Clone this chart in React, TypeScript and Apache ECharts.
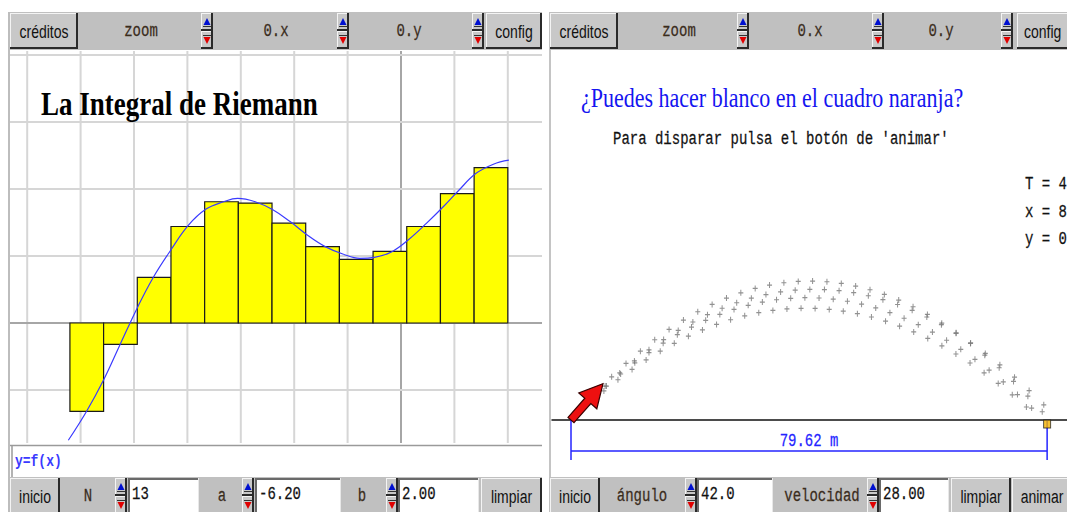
import React, { useEffect, useRef } from "react";
import * as echarts from "echarts";

// ---------------- Left applet: La Integral de Riemann ----------------
const riemannA = -6.2;
const riemannB = 2.0;
const riemannN = 13;
// midpoint Riemann-sum heights
const riemannBarHeights = [-1.32, -0.32, 0.68, 1.44, 1.81, 1.79, 1.49, 1.14, 0.95, 1.07, 1.44, 1.93, 2.32];
// y = f(x)
const curveX = [-6.23, -5.89, -5.57, -5.26, -4.93, -4.64, -4.31, -3.98, -3.65, -3.32, -3.06, -2.73, -2.4, -2.07, -1.75, -1.42, -1.09, -0.77, -0.5, -0.18, 0.15, 0.48, 0.81, 1.07, 1.4, 1.73, 2.02];
const curveY = [-1.75, -1.32, -0.85, -0.32, 0.24, 0.68, 1.09, 1.46, 1.7, 1.81, 1.86, 1.81, 1.69, 1.51, 1.31, 1.14, 1.03, 0.965, 0.98, 1.06, 1.25, 1.49, 1.75, 1.97, 2.23, 2.37, 2.43];
const leftGridX = [-7, -6, -5, -4, -3, -2, -1, 0, 1, 2];
const leftGridY = [-1, 0, 1, 2, 3, 4];
const leftInputs = ["13", "-6.20", "2.00"];

// ---------------- Right applet: tiro parabólico ----------------
const angleText = "42.0";
const speedText = "28.00";
const rangeMeters = 79.62;
const arrowVector = [5.35, 4.82];
const readouts = ["T = 4", "x = 8", "y = 0"];
const traceA = [[2.0, 1.79], [4.4, 3.83], [6.8, 5.72], [9.2, 7.49], [11.6, 9.12], [14.0, 10.63], [16.4, 12.0], [18.8, 13.23], [21.2, 14.34], [23.6, 15.31], [26.0, 16.15], [28.4, 16.85], [30.8, 17.43], [33.2, 17.87], [35.6, 18.18], [38.0, 18.35], [40.4, 18.4], [42.8, 18.31], [45.2, 18.09], [47.6, 17.74], [50.0, 17.25], [52.4, 16.63], [54.8, 15.88], [57.2, 15.0], [59.6, 13.98], [62.0, 12.83], [64.4, 11.55], [66.8, 10.14], [69.2, 8.59], [71.6, 6.92], [74.0, 5.11], [76.4, 3.16], [78.8, 1.09]];
const traceB = [[3.26, 2.66], [5.71, 4.5], [8.15, 6.23], [10.6, 7.83], [13.04, 9.3], [15.49, 10.65], [17.93, 11.87], [20.38, 12.98], [22.82, 13.95], [25.27, 14.8], [27.71, 15.53], [30.16, 16.13], [32.6, 16.61], [35.05, 16.96], [37.49, 17.19], [39.94, 17.29], [42.38, 17.27], [44.83, 17.13], [47.27, 16.86], [49.72, 16.46], [52.16, 15.94], [54.61, 15.3], [57.05, 14.53], [59.5, 13.64], [61.94, 12.62], [64.39, 11.48], [66.83, 10.21], [69.28, 8.82], [71.72, 7.31], [74.17, 5.67], [76.61, 3.9], [79.06, 2.01]];
const traceC = [[3.56, 2.78], [5.93, 4.5], [8.3, 6.09], [10.67, 7.57], [13.04, 8.93], [15.41, 10.17], [17.78, 11.3], [20.15, 12.31], [22.52, 13.2], [24.89, 13.98], [27.26, 14.64], [29.63, 15.19], [32.0, 15.62], [34.37, 15.93], [36.74, 16.12], [39.11, 16.2], [41.48, 16.16], [43.85, 16.0], [46.22, 15.73], [48.59, 15.34], [50.96, 14.84], [53.33, 14.22], [55.7, 13.48], [58.07, 12.62], [60.44, 11.65], [62.81, 10.56], [65.18, 9.36], [67.55, 8.03], [69.92, 6.6], [72.29, 5.04], [74.66, 3.37], [77.03, 1.58]];
const traceD = [[3.14, 2.27], [5.5, 3.85], [7.85, 5.33], [10.21, 6.7], [12.56, 7.96], [14.92, 9.11], [17.27, 10.16], [19.63, 11.1], [21.98, 11.93], [24.34, 12.66], [26.69, 13.28], [29.05, 13.8], [31.4, 14.21], [33.76, 14.51], [36.11, 14.71], [38.47, 14.79], [40.82, 14.78], [43.18, 14.65], [45.53, 14.42], [47.89, 14.08], [50.24, 13.64], [52.6, 13.09], [54.95, 12.43], [57.31, 11.67], [59.66, 10.8], [62.02, 9.82], [64.37, 8.74], [66.73, 7.55], [69.08, 6.25], [71.44, 4.85], [73.79, 3.34], [76.15, 1.72]];

// ---------------- layout (pixels) ----------------
const S = 1.26; // vertical stretch of the screenshot
const L = { left: 10, top: 51, right: 542, bottom: 443, ox: 401, oy: 323, ux: 53.4, uy: 67 };
const R = { left: 552, top: 51, right: 1067, bottom: 478, ox: 571, oy: 420, ux: 5.98, uy: 7.55 };

const BTN = '14px "Liberation Sans", Arial, sans-serif';
const MONO = '14px "Liberation Mono", "Courier New", monospace';
const LABEL_C = "#3a2c1c";

function txt(x: number, y: number, text: string, font: string, fill: string, align = "center", z = 20) {
  const heavy = font === MONO;
  return {
    type: "text", x, y, scaleY: S, z,
    style: { text, font, fill, textAlign: align, textVerticalAlign: "middle", stroke: heavy ? fill : undefined, lineWidth: heavy ? 0.2 : 0 },
  };
}
function raised(x: number, y: number, w: number, h: number) {
  return [
    { type: "rect", z: 10, shape: { x, y, width: w, height: h }, style: { fill: "#c8c8c8" } },
    { type: "line", z: 11, shape: { x1: x + 0.5, y1: y, x2: x + 0.5, y2: y + h }, style: { stroke: "#f4f4f4", lineWidth: 1 } },
    { type: "line", z: 11, shape: { x1: x, y1: y + 0.5, x2: x + w, y2: y + 0.5 }, style: { stroke: "#f4f4f4", lineWidth: 1 } },
    { type: "line", z: 11, shape: { x1: x + w - 1, y1: y, x2: x + w - 1, y2: y + h }, style: { stroke: "#2a2a2a", lineWidth: 2 } },
    { type: "line", z: 11, shape: { x1: x, y1: y + h - 1, x2: x + w, y2: y + h - 1 }, style: { stroke: "#2a2a2a", lineWidth: 2 } },
  ];
}
function button(x: number, y: number, w: number, h: number, label: string, align = "center") {
  const tx = align === "center" ? x + w / 2 : x + 7;
  return [...raised(x, y, w, h), txt(tx, y + h / 2 + 1, label, BTN, "#111", align)];
}
function spinner(x: number, y: number, h: number) {
  const w = 12;
  const half = h / 2;
  const cx = x + w / 2;
  const c1 = y + half / 2;
  const c2 = y + half + half / 2;
  return [
    ...raised(x, y, w, half),
    ...raised(x, y + half, w, half),
    { type: "polygon", z: 12, shape: { points: [[cx - 3.5, c1 + 3], [cx + 3.5, c1 + 3], [cx, c1 - 4]] }, style: { fill: "#0010d0" } },
    { type: "line", z: 12, shape: { x1: cx - 4, y1: c1 + 4.5, x2: cx + 4, y2: c1 + 4.5 }, style: { stroke: "#333", lineWidth: 1 } },
    { type: "polygon", z: 12, shape: { points: [[cx - 3.5, c2 - 3], [cx + 3.5, c2 - 3], [cx, c2 + 4]] }, style: { fill: "#e00000" } },
    { type: "line", z: 12, shape: { x1: cx - 4, y1: c2 - 4.5, x2: cx + 4, y2: c2 - 4.5 }, style: { stroke: "#333", lineWidth: 1 } },
  ];
}
function input(x: number, y: number, w: number, h: number, value: string) {
  return [
    { type: "rect", z: 10, shape: { x, y, width: w, height: h }, style: { fill: "#ffffff" } },
    { type: "line", z: 11, shape: { x1: x + 1, y1: y, x2: x + 1, y2: y + h }, style: { stroke: "#6a6a6a", lineWidth: 2 } },
    { type: "line", z: 11, shape: { x1: x, y1: y + 1, x2: x + w, y2: y + 1 }, style: { stroke: "#6a6a6a", lineWidth: 2 } },
    { type: "line", z: 11, shape: { x1: x + w - 0.5, y1: y, x2: x + w - 0.5, y2: y + h }, style: { stroke: "#e8e8e8", lineWidth: 1 } },
    txt(x + 4, y + h / 2 - 1, value, MONO, "#111", "left"),
  ];
}
function toolbarBg(x: number, y: number, w: number, h: number) {
  return { type: "rect", z: 9, shape: { x, y, width: w, height: h }, style: { fill: "#c0c0c0" } };
}

function buildGraphics() {
  const g: any[] = [];
  // panel borders
  g.push({ type: "line", z: 8, shape: { x1: 9, y1: 12, x2: 9, y2: 512 }, style: { stroke: "#bdbdbd", lineWidth: 2 } });
  g.push({ type: "line", z: 8, shape: { x1: 550, y1: 12, x2: 550, y2: 480 }, style: { stroke: "#c4c4c4", lineWidth: 2 } });
  // top toolbars
  const topY = 13, topH = 36;
  g.push(toolbarBg(10, 12, 532, 38));
  g.push(toolbarBg(549, 12, 518, 38));
  g.push(...button(10, topY, 68, topH, "créditos"));
  g.push(txt(141, 32, "zoom", MONO, LABEL_C));
  g.push(...spinner(201, topY, topH));
  g.push(txt(276, 32, "0.x", MONO, LABEL_C));
  g.push(...spinner(337, topY, topH));
  g.push(txt(409, 32, "0.y", MONO, LABEL_C));
  g.push(...spinner(472, topY, topH));
  g.push(...button(486, topY, 56, topH, "config"));

  g.push(...button(550, topY, 68, topH, "créditos"));
  g.push(txt(679, 32, "zoom", MONO, LABEL_C));
  g.push(...spinner(737, topY, topH));
  g.push(txt(810, 32, "0.x", MONO, LABEL_C));
  g.push(...spinner(872, topY, topH));
  g.push(txt(941, 32, "0.y", MONO, LABEL_C));
  g.push(...spinner(1001, topY, topH));
  g.push(...button(1017, topY, 60, topH, "config", "left"));

  // left function box
  g.push({ type: "rect", z: 10, shape: { x: 10, y: 445, width: 532, height: 32 }, style: { fill: "#ffffff" } });
  g.push({ type: "line", z: 11, shape: { x1: 10, y1: 445.5, x2: 542, y2: 445.5 }, style: { stroke: "#9a9a9a", lineWidth: 1.5 } });
  g.push({ type: "line", z: 11, shape: { x1: 12, y1: 445, x2: 12, y2: 477 }, style: { stroke: "#9a9a9a", lineWidth: 1.5 } });
  g.push(txt(15, 462, "y=f(x)", 'bold 13px "Liberation Mono", monospace', "#3a3aff", "left"));

  // bottom toolbars
  const bY = 478, bH = 36;
  g.push(toolbarBg(10, 477, 532, 35));
  g.push(toolbarBg(549, 477, 518, 35));
  g.push(...button(10, bY, 50, bH, "inicio"));
  g.push(txt(88, 497, "N", MONO, LABEL_C));
  g.push(...spinner(115, bY, bH));
  g.push(...input(128, bY, 71, bH, leftInputs[0]));
  g.push(txt(222, 497, "a", MONO, LABEL_C));
  g.push(...spinner(242, bY, bH));
  g.push(...input(255, bY, 86, bH, leftInputs[1]));
  g.push(txt(362, 497, "b", MONO, LABEL_C));
  g.push(...spinner(386, bY, bH));
  g.push(...input(398, bY, 81, bH, leftInputs[2]));
  g.push(...button(481, bY, 61, bH, "limpiar"));

  g.push(...button(550, bY, 50, bH, "inicio"));
  g.push(txt(642, 497, "ángulo", MONO, LABEL_C));
  g.push(...spinner(685, bY, bH));
  g.push(...input(697, bY, 76, bH, angleText));
  g.push(txt(822, 497, "velocidad", MONO, LABEL_C));
  g.push(...spinner(867, bY, bH));
  g.push(...input(879, bY, 70, bH, speedText));
  g.push(...button(951, bY, 60, bH, "limpiar"));
  g.push(...button(1012, bY, 60, bH, "animar"));

  // titles / texts
  g.push(txt(41, 104, "La Integral de Riemann", 'bold 27px "Liberation Serif", "Times New Roman", serif', "#000", "left"));
  g.push(txt(581, 98, "¿Puedes hacer blanco en el cuadro naranja?", '22px "Liberation Serif", "Times New Roman", serif', "#1414f0", "left"));
  g.push(txt(613, 140, "Para disparar pulsa el botón de 'animar'", MONO, "#111", "left"));
  readouts.forEach((t, i) => g.push(txt(1025, 185 + i * 27.5, t, MONO, "#111", "left")));
  return g;
}

const plusSymbol = "path://M2,0H3V2H5V3H3V5H2V3H0V2H2Z";

export default function App() {
  const ref = useRef<HTMLDivElement>(null);
  useEffect(() => {
    if (!ref.current) return;
    const chart = echarts.init(ref.current, null, { renderer: "svg" });
    const lx = [(L.left - L.ox) / L.ux, (L.right - L.ox) / L.ux];
    const ly = [(L.oy - L.bottom) / L.uy, (L.oy - L.top) / L.uy];
    const rx = [(R.left - R.ox) / R.ux, (R.right - R.ox) / R.ux];
    const ry = [(R.oy - R.bottom) / R.uy, (R.oy - R.top) / R.uy];
    const barW = (riemannB - riemannA) / riemannN;
    const barData = riemannBarHeights.map((h, i) => [riemannA + i * barW, riemannA + (i + 1) * barW, h]);
    const traceStyle = { type: "scatter", xAxisIndex: 1, yAxisIndex: 1, symbol: plusSymbol, symbolSize: [5, 6], itemStyle: { color: "#767676" }, z: 3, silent: true };
    const option: any = {
      animation: false,
      backgroundColor: "#ffffff",
      grid: [
        { left: L.left, top: L.top, width: L.right - L.left, height: L.bottom - L.top },
        { left: R.left, top: R.top, width: R.right - R.left, height: R.bottom - R.top },
      ],
      xAxis: [
        { gridIndex: 0, type: "value", min: lx[0], max: lx[1], show: false },
        {
          gridIndex: 1, type: "value", min: rx[0], max: rx[1],
          axisLine: { show: true, onZero: true, lineStyle: { color: "#111", width: 1.5 } },
          axisTick: { show: false }, axisLabel: { show: false }, splitLine: { show: false },
        },
      ],
      yAxis: [
        { gridIndex: 0, type: "value", min: ly[0], max: ly[1], show: false },
        { gridIndex: 1, type: "value", min: ry[0], max: ry[1], show: false },
      ],
      graphic: { elements: buildGraphics() },
      series: [
        {
          type: "custom", xAxisIndex: 0, yAxisIndex: 0, z: 1, silent: true,
          data: leftGridX.map((v) => [v, 0]),
          renderItem: (_p: any, api: any) => {
            const v = api.value(0);
            const a = api.coord([v, ly[1]]);
            const b = api.coord([v, ly[0]]);
            return { type: "line", shape: { x1: a[0], y1: a[1], x2: b[0], y2: b[1] }, style: { stroke: v === 0 ? "#a6a6a6" : "#d6d6d6", lineWidth: 2 } };
          },
        },
        {
          type: "custom", xAxisIndex: 0, yAxisIndex: 0, z: 1, silent: true,
          data: leftGridY.map((v) => [0, v]),
          renderItem: (_p: any, api: any) => {
            const v = api.value(1);
            const a = api.coord([lx[0], v]);
            const b = api.coord([lx[1], v]);
            return { type: "line", shape: { x1: a[0], y1: a[1], x2: b[0], y2: b[1] }, style: { stroke: v === 0 ? "#a6a6a6" : "#d6d6d6", lineWidth: 2 } };
          },
        },
        {
          type: "custom", xAxisIndex: 0, yAxisIndex: 0, z: 2, silent: true,
          data: barData, encode: { x: [0, 1], y: 2 },
          renderItem: (_p: any, api: any) => {
            const p0 = api.coord([api.value(0), 0]);
            const p1 = api.coord([api.value(1), api.value(2)]);
            return {
              type: "rect",
              shape: { x: p0[0], y: Math.min(p0[1], p1[1]), width: p1[0] - p0[0], height: Math.abs(p1[1] - p0[1]) },
              style: { fill: "#ffff00", stroke: "#1a1a1a", lineWidth: 1.2 },
            };
          },
        },
        {
          type: "line", xAxisIndex: 0, yAxisIndex: 0, z: 3, silent: true, smooth: 0.4, showSymbol: false,
          data: curveX.map((x, i) => [x, curveY[i]]),
          lineStyle: { color: "#3a3aff", width: 1.2 },
        },
        { ...traceStyle, data: traceA },
        { ...traceStyle, data: traceB },
        { ...traceStyle, data: traceC },
        { ...traceStyle, data: traceD },
        {
          type: "custom", xAxisIndex: 1, yAxisIndex: 1, z: 4, silent: true,
          data: [[0, rangeMeters]], encode: { x: [0, 1] },
          renderItem: (_p: any, api: any) => {
            const x0 = api.value(0), x1 = api.value(1);
            const a = api.coord([x0, 0]);
            const b = api.coord([x1, 0]);
            const yLine = api.coord([x0, -4.1])[1];
            const yEnd = api.coord([x0, -5.3])[1];
            const yText = api.coord([x0, -2.85])[1];
            const st = { stroke: "#2424ff", lineWidth: 1.5 };
            return {
              type: "group",
              children: [
                { type: "line", shape: { x1: a[0], y1: a[1], x2: a[0], y2: yEnd }, style: st },
                { type: "line", shape: { x1: b[0], y1: b[1], x2: b[0], y2: yEnd }, style: st },
                { type: "line", shape: { x1: a[0], y1: yLine, x2: b[0], y2: yLine }, style: st },
                { type: "text", x: (a[0] + b[0]) / 2, y: yText, scaleY: S, style: { text: rangeMeters.toFixed(2) + " m", font: MONO, fill: "#2424ff", stroke: "#2424ff", lineWidth: 0.2, textAlign: "center", textVerticalAlign: "middle" } },
              ],
            };
          },
        },
        {
          type: "scatter", xAxisIndex: 1, yAxisIndex: 1, z: 5, silent: true,
          data: [[rangeMeters, 0]], symbol: "rect", symbolSize: [7, 8], symbolOffset: [0, 4],
          itemStyle: { color: "#f5b400", borderColor: "#222", borderWidth: 1 },
        },
        {
          type: "custom", xAxisIndex: 1, yAxisIndex: 1, z: 6, silent: true,
          data: [arrowVector],
          renderItem: (_p: any, api: any) => {
            const p0 = api.coord([0, 0]);
            const p1 = api.coord([api.value(0), api.value(1)]);
            const dx = p1[0] - p0[0], dy = p1[1] - p0[1];
            const len = Math.hypot(dx, dy);
            const ux = dx / len, uy = dy / len, nx = -uy, ny = ux;
            const hl = 23, hw = 12, sw = 4;
            const bx = p1[0] - ux * hl, by = p1[1] - uy * hl;
            const pts = [
              [p0[0] + nx * sw, p0[1] + ny * sw], [bx + nx * sw, by + ny * sw], [bx + nx * hw, by + ny * hw],
              [p1[0], p1[1]], [bx - nx * hw, by - ny * hw], [bx - nx * sw, by - ny * sw], [p0[0] - nx * sw, p0[1] - ny * sw],
            ];
            return { type: "polygon", shape: { points: pts }, style: { fill: "#ee1010", stroke: "#3a0000", lineWidth: 1.2 } };
          },
        },
      ],
    };
    chart.setOption(option);
    return () => chart.dispose();
  }, []);
  return <div ref={ref} style={{ position: "absolute", left: 0, top: 0, width: 1067, height: 512 }} />;
}
